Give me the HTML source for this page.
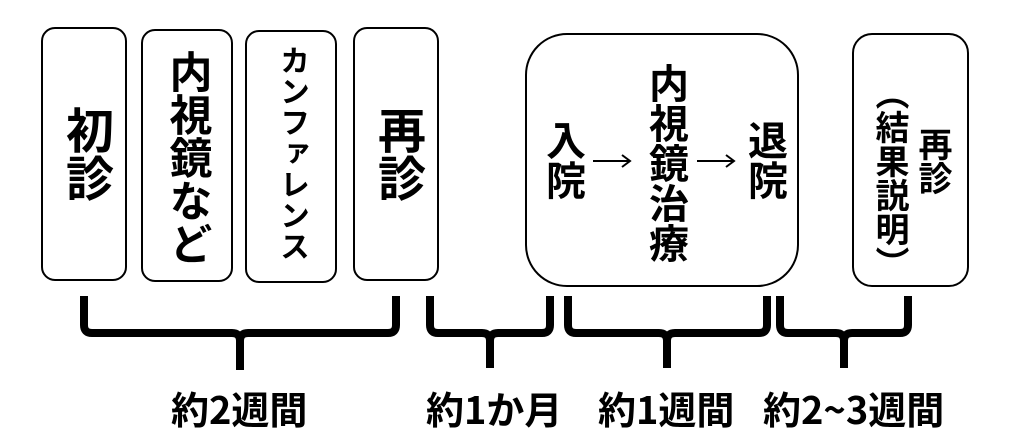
<!DOCTYPE html>
<html><head><meta charset="utf-8"><style>
body{margin:0;width:1024px;height:448px;background:#fff;overflow:hidden;position:relative;font-family:"Liberation Sans","Noto Sans CJK JP",sans-serif;font-weight:bold;color:#000}
.box{position:absolute;border:2px solid #000;border-radius:14px;box-sizing:border-box}
.v{position:absolute;writing-mode:vertical-rl;line-height:1;font-weight:bold;white-space:nowrap}
.t{position:absolute;font-family:"Noto Sans CJK JP",sans-serif;font-size:38px;line-height:1;white-space:nowrap}
</style></head><body>
<div class="box" style="left:41px;top:27px;width:86px;height:254px"></div>
<div class="box" style="left:141px;top:29px;width:92px;height:253px"></div>
<div class="box" style="left:245px;top:30px;width:92px;height:253px"></div>
<div class="box" style="left:353px;top:27px;width:86px;height:254px"></div>
<div class="box" style="left:525px;top:33px;width:274px;height:254px;border-radius:42px"></div>
<div class="box" style="left:852px;top:33px;width:117px;height:254px;border-radius:20px"></div>

<div class="v" style="left:60px;top:106px;font-size:48px">初診</div>
<div class="v" style="left:165px;top:50px;font-size:43px;line-height:1">内視鏡など</div>
<div class="v" style="left:276px;top:45px;font-size:30px;letter-spacing:1px">カンファレンス</div>
<div class="v" style="left:372px;top:106px;font-size:48px">再診</div>
<div class="v" style="left:542px;top:120px;font-size:40px">入院</div>
<div class="v" style="left:645px;top:63px;font-size:40px">内視鏡治療</div>
<div class="v" style="left:744px;top:120px;font-size:40px">退院</div>
<div class="v" style="left:915px;top:127px;font-size:34px">再診</div>
<div class="v" style="left:872px;top:76px;font-size:34px;line-height:1">（結果説明）</div>

<svg width="1024" height="448" style="position:absolute;left:0;top:0" fill="none" stroke="#000" stroke-width="8">
<g stroke-width="2">
<path d="M593 161 H629 M622 155 L630 161 L622 167"/>
<path d="M697 161 H733 M726 155 L734 161 L726 167"/>
</g>
<path d="M84 296 V325 Q84 333 92 333 H232 Q240 333 240 341 V370 M240 341 Q240 333 248 333 H388 Q396 333 396 325 V296"/>
<path d="M430 296 V325 Q430 333 438 333 H482 Q490 333 490 341 V368 M490 341 Q490 333 498 333 H542 Q550 333 550 325 V296"/>
<path d="M568 296 V325 Q568 333 576 333 H659 Q667 333 667 341 V368 M667 341 Q667 333 675 333 H759 Q767 333 767 325 V296"/>
<path d="M780 296 V325 Q780 333 788 333 H836 Q844 333 844 341 V368 M844 341 Q844 333 852 333 H900 Q908 333 908 325 V296"/>
</svg>

<div class="t" style="left:171px;top:389px">約2週間</div>
<div class="t" style="left:426px;top:389px">約1か月</div>
<div class="t" style="left:598px;top:389px">約1週間</div>
<div class="t" style="left:763px;top:389px">約2~3週間</div>
</body></html>
